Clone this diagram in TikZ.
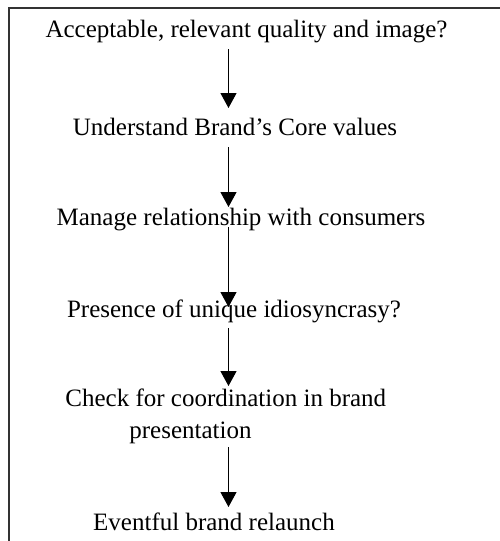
\documentclass[tikz,border=0pt]{standalone}
\usepackage{fontspec}
\setmainfont{Liberation Serif}
\usepackage{tikz}
\usetikzlibrary{arrows.meta,calc}
\usetikzlibrary{positioning}

\tikzset{
  step label/.style={font=\fontsize{12}{14.9}\selectfont, inner sep=0pt},
  flow/.style={line width=0.5pt, -{Triangle[length=7.2pt,width=7.7pt]}},
  frame/.style={line width=0.9pt, color=black!80}
}

\begin{document}
\begin{tikzpicture}[x=0.48pt, y=-0.48pt]
                \useasboundingbox (0,0) rectangle (500,541);
                \draw[frame] (500,8) -- (9,8) -- (9,541);
                \coordinate (axis) at (228.5,0);
                \node[step label, anchor=base] (accept) at (246.5,37) {Acceptable, relevant quality and image?};
                \node[step label, anchor=base] (core) at (235,135) {Understand Brand's Core values};
                \node[step label, anchor=base] (manage) at (241,225) {Manage relationship with consumers};
                \node[step label, anchor=base] (unique) at (234,317) {Presence of unique idiosyncrasy?};
                \node[step label, anchor=base west, align=left] (coord) at (65,438) {Check for coordination in brand\\\hspace*{30.7pt}presentation};
                \node[step label, anchor=base] (relaunch) at (214,530) {Eventful brand relaunch};
                %\draw[dashed] (axis) -- (228.5,541);
                \draw[flow] ($(accept.base -| axis)+(0,12)$) -- ($(core.base -| axis)+(0,-27)$);
                \draw[flow] ($(core.base -| axis)+(0,12)$) -- ($(manage.base -| axis)+(0,-18)$);
                \draw[flow] ($(manage.base -| axis)+(0,2)$) -- ($(unique.base -| axis)+(0,-10)$);
                \draw[flow] ($(unique.base -| axis)+(0,11)$) -- ($(coord.base -| axis)+(0,-52)$);
                \draw[flow] ($(coord.base -| axis)+(0,9)$) -- ($(relaunch.base -| axis)+(0,-23)$);
\end{tikzpicture}
\end{document}
